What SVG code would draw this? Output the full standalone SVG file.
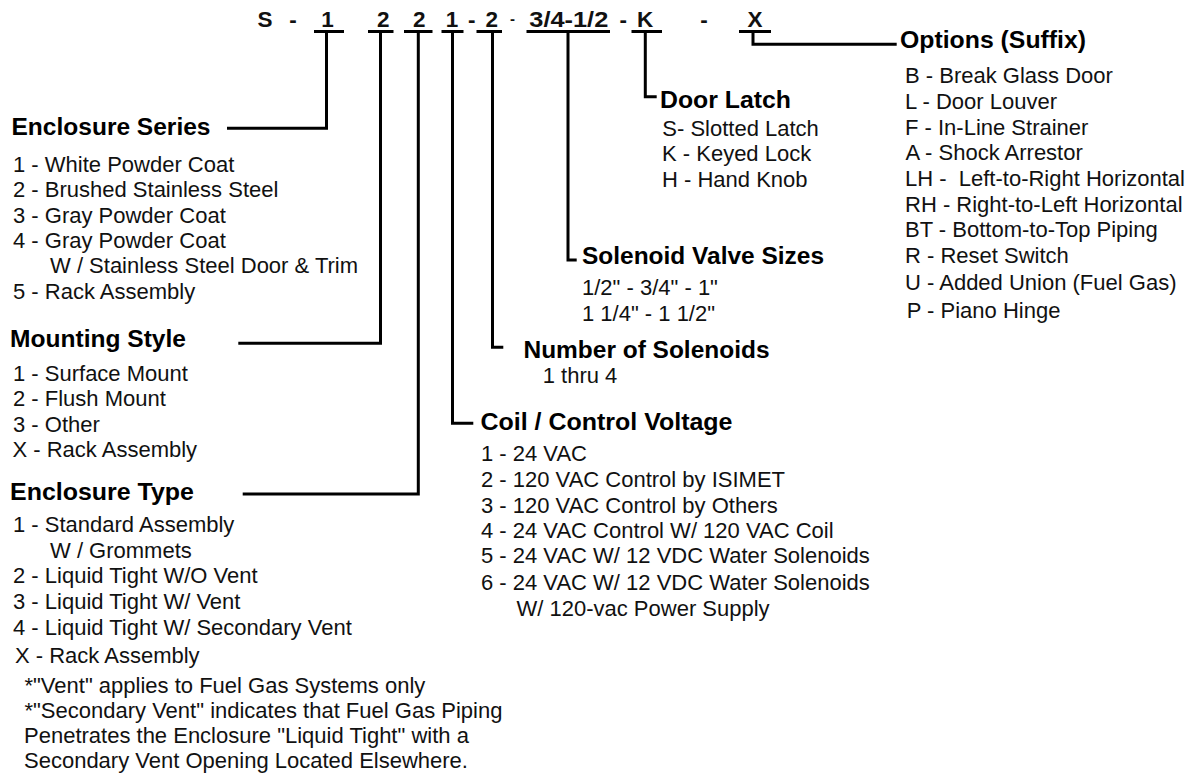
<svg xmlns="http://www.w3.org/2000/svg" width="1188" height="776" viewBox="0 0 1188 776">
<style>
text{font-family:"Liberation Sans",Arial,sans-serif;fill:#111}
.code{font-size:22.5px;font-weight:bold;text-anchor:middle}
.h{font-size:23px;font-weight:bold;fill:#000}
.i{font-size:22px}
.ln{fill:none;stroke:#000;stroke-width:3;stroke-linejoin:miter}
</style>
<rect width="1188" height="776" fill="#fff"/>
<g id="code">
<text class="code" x="265" y="27">S</text>
<text class="code" x="293" y="27">-</text>
<text class="code" x="327.5" y="27">1</text>
<text class="code" x="383.3" y="27">2</text>
<text class="code" x="419.3" y="27">2</text>
<text class="code" x="452" y="27">1</text>
<text class="code" x="471.7" y="27">-</text>
<text class="code" x="491.7" y="27">2</text>
<text class="code" x="512.5" y="24" style="font-size:15px">-</text>
<text class="code" x="568.8" y="27" textLength="79" lengthAdjust="spacingAndGlyphs">3/4-1/2</text>
<text class="code" x="623.3" y="27">-</text>
<text class="code" x="645" y="27">K</text>
<text class="code" x="704" y="27">-</text>
<text class="code" x="755" y="27">X</text>
</g>
<g id="connectors">
<path class="ln" d="M314,31.5H344M368,31.5H393.5M404,31.5H432.5M441.5,31.5H463.5M476.5,31.5H502M526.5,31.5H610M631.5,31.5H662M739,31.5H771"/>
<path class="ln" d="M326.5,31.5V128.3H227"/>
<path class="ln" d="M380.5,31.5V343.3H238.3"/>
<path class="ln" d="M418.3,31.5V494H242.7"/>
<path class="ln" d="M452.5,31.5V423.3H473.3"/>
<path class="ln" d="M492.5,31.5V347.3H503.3"/>
<path class="ln" d="M568,31.5V260H576.7"/>
<path class="ln" d="M645.3,31.5V96.7H656.7"/>
<path class="ln" d="M753,31.5V44.3H896.7"/>
</g>
<g id="enclosure-series">
<text class="h" x="11.5" y="135" textLength="199" lengthAdjust="spacingAndGlyphs">Enclosure Series</text>
<text class="i" x="13" y="171.7">1 - White Powder Coat</text>
<text class="i" x="13" y="196.7">2 - Brushed Stainless Steel</text>
<text class="i" x="13" y="222.7">3 - Gray Powder Coat</text>
<text class="i" x="13" y="248.3">4 - Gray Powder Coat</text>
<text class="i" x="50" y="273.3">W / Stainless Steel Door &amp; Trim</text>
<text class="i" x="13" y="299.3">5 - Rack Assembly</text>
</g>
<g id="mounting-style">
<text class="h" x="10" y="346.7" textLength="176" lengthAdjust="spacingAndGlyphs">Mounting Style</text>
<text class="i" x="13" y="381">1 - Surface Mount</text>
<text class="i" x="13" y="406">2 - Flush Mount</text>
<text class="i" x="13" y="431.7">3 - Other</text>
<text class="i" x="12.5" y="456.7">X - Rack Assembly</text>
</g>
<g id="enclosure-type">
<text class="h" x="10" y="500" textLength="184" lengthAdjust="spacingAndGlyphs">Enclosure Type</text>
<text class="i" x="13" y="532.3">1 - Standard Assembly</text>
<text class="i" x="50" y="558.3">W / Grommets</text>
<text class="i" x="13" y="583.3">2 - Liquid Tight W/O Vent</text>
<text class="i" x="13" y="609.3">3 - Liquid Tight W/ Vent</text>
<text class="i" x="13" y="635">4 - Liquid Tight W/ Secondary Vent</text>
<text class="i" x="15" y="663.3">X - Rack Assembly</text>
<text class="i" x="24.5" y="692.7">*"Vent" applies to Fuel Gas Systems only</text>
<text class="i" x="24.5" y="718.3">*"Secondary Vent" indicates that Fuel Gas Piping</text>
<text class="i" x="24" y="743.3">Penetrates the Enclosure "Liquid Tight" with a</text>
<text class="i" x="24" y="768.3">Secondary Vent Opening Located Elsewhere.</text>
</g>
<g id="door-latch">
<text class="h" x="660" y="108.3" textLength="131" lengthAdjust="spacingAndGlyphs">Door Latch</text>
<text class="i" x="662.3" y="136">S- Slotted Latch</text>
<text class="i" x="662" y="161">K - Keyed Lock</text>
<text class="i" x="662" y="186.7">H - Hand Knob</text>
</g>
<g id="solenoid-valve-sizes">
<text class="h" x="582" y="264.3" textLength="242" lengthAdjust="spacingAndGlyphs">Solenoid Valve Sizes</text>
<text class="i" x="582" y="295">1/2" - 3/4" - 1"</text>
<text class="i" x="582" y="320.7">1 1/4" - 1 1/2"</text>
</g>
<g id="number-of-solenoids">
<text class="h" x="523.5" y="358.3" textLength="246" lengthAdjust="spacingAndGlyphs">Number of Solenoids</text>
<text class="i" x="542.7" y="383.3">1 thru 4</text>
</g>
<g id="coil-control-voltage">
<text class="h" x="480.5" y="430" textLength="252" lengthAdjust="spacingAndGlyphs">Coil / Control Voltage</text>
<text class="i" x="481" y="461">1 - 24 VAC</text>
<text class="i" x="481" y="487.3">2 - 120 VAC Control by ISIMET</text>
<text class="i" x="481" y="512.7">3 - 120 VAC Control by Others</text>
<text class="i" x="481" y="537.7">4 - 24 VAC Control W/ 120 VAC Coil</text>
<text class="i" x="481" y="563.3">5 - 24 VAC W/ 12 VDC Water Solenoids</text>
<text class="i" x="481" y="590">6 - 24 VAC W/ 12 VDC Water Solenoids</text>
<text class="i" x="516.5" y="616">W/ 120-vac Power Supply</text>
</g>
<g id="options-suffix">
<text class="h" x="900" y="48.3" textLength="186" lengthAdjust="spacingAndGlyphs">Options (Suffix)</text>
<text class="i" x="905" y="83.3">B - Break Glass Door</text>
<text class="i" x="905" y="109.3">L - Door Louver</text>
<text class="i" x="905" y="135">F - In-Line Strainer</text>
<text class="i" x="905.5" y="160">A - Shock Arrestor</text>
<text class="i" x="905" y="185.7" xml:space="preserve">LH -  Left-to-Right Horizontal</text>
<text class="i" x="905" y="211.7">RH - Right-to-Left Horizontal</text>
<text class="i" x="905" y="237.3">BT - Bottom-to-Top Piping</text>
<text class="i" x="905" y="262.7">R - Reset Switch</text>
<text class="i" x="905" y="290">U - Added Union (Fuel Gas)</text>
<text class="i" x="906.7" y="318.3">P - Piano Hinge</text>
</g>
</svg>
